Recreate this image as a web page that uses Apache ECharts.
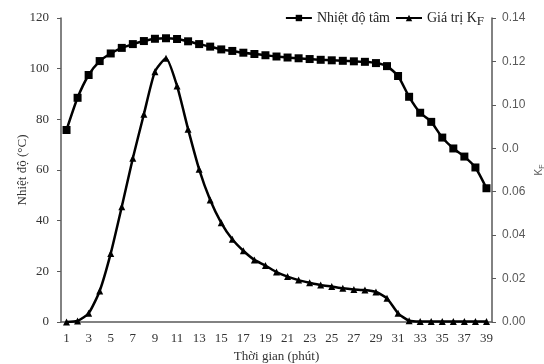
<!DOCTYPE html>
<html>
<head>
<meta charset="utf-8">
<script src="https://cdn.jsdelivr.net/npm/echarts@6/dist/echarts.min.js"></script>
<style>
  html, body { margin: 0; padding: 0; background: #fff; }
  #chart { width: 544px; height: 364px; }
</style>
</head>
<body>
<div id="chart"></div>
<script>
// Thời gian (phút): 1..39
const minutes = [
  1, 2, 3, 4, 5, 6, 7, 8, 9, 10, 11, 12, 13, 14, 15, 16, 17, 18, 19, 20,
  21, 22, 23, 24, 25, 26, 27, 28, 29, 30, 31, 32, 33, 34, 35, 36, 37, 38, 39
];

// Nhiệt độ tâm (°C), trục trái
const coreTemp = [
  75.8, 88.5, 97.5, 103.0, 106.0, 108.2, 109.7, 110.9, 111.8, 112.0,
  111.7, 110.8, 109.7, 108.7, 107.6, 107.0, 106.3, 105.8, 105.3, 104.8,
  104.4, 104.1, 103.8, 103.5, 103.3, 103.1, 102.9, 102.7, 102.2, 101.0,
  97.1, 88.9, 82.6, 79.0, 72.8, 68.5, 65.3, 61.0, 52.8
];

// Giá trị K_F, trục phải
const kValue = [
  0.0000, 0.0005, 0.0040, 0.0143, 0.0316, 0.0531, 0.0754, 0.0957, 0.1153, 0.1215,
  0.1087, 0.0888, 0.0703, 0.0562, 0.0457, 0.0381, 0.0328, 0.0286, 0.0260, 0.0230,
  0.0209, 0.0193, 0.0181, 0.0170, 0.0163, 0.0155, 0.0150, 0.0147, 0.0138, 0.0109,
  0.0040, 0.0006, 0.0002, 0.0002, 0.0002, 0.0002, 0.0002, 0.0002, 0.0002
];

// nhãn trục phải như trong hình gốc (0.08 bị cắt thành "0.0")
const rightTickLabels = ["0.00", "0.02", "0.04", "0.06", "0.0", "0.10", "0.12", "0.14"];

const serif = "Liberation Serif";
const axisColor = "#595959";

const chart = echarts.init(document.getElementById("chart"));
chart.setOption({
  animation: false,
  textStyle: { fontFamily: serif },
  grid: { left: 61, right: 52, top: 18, bottom: 42, outerBoundsMode: "none", containLabel: false },
  legend: {
    top: 3,
    right: 55,
    itemGap: 5,
    itemWidth: 26,
    itemHeight: 8,
    textStyle: {
      fontFamily: serif,
      fontSize: 14,
      color: "#222",
      lineHeight: 20,
      rich: {
        sub: { fontFamily: serif, fontSize: 13, color: "#222", lineHeight: 13, verticalAlign: "bottom" }
      }
    },
    formatter: (name) => (name === "Giá trị KF" ? "Giá trị K{sub|F}" : name),
    data: ["Nhiệt độ tâm", "Giá trị KF"]
  },
  xAxis: {
    type: "category",
    data: minutes,
    boundaryGap: true,
    name: "Thời gian (phút)",
    nameLocation: "middle",
    nameGap: 28,
    nameMoveOverlap: false,
    nameTextStyle: { fontFamily: serif, fontSize: 13, color: "#333" },
    axisLine: { lineStyle: { color: axisColor, width: 1.5 } },
    axisTick: { show: false },
    axisLabel: { interval: 1, fontFamily: serif, fontSize: 13, color: "#333", margin: 10 }
  },
  yAxis: [
    {
      type: "value",
      min: 0,
      max: 120,
      interval: 20,
      name: "Nhiệt độ (°C)",
      nameLocation: "middle",
      nameGap: 32,
      nameMoveOverlap: false,
      nameTextStyle: { fontFamily: serif, fontSize: 13, color: "#333" },
      axisLine: { show: true, lineStyle: { color: axisColor, width: 1.5 } },
      axisTick: { show: true, length: 4, lineStyle: { color: axisColor } },
      axisLabel: { fontFamily: serif, fontSize: 13, color: "#333", margin: 12 },
      splitLine: { show: false }
    },
    {
      type: "value",
      min: 0,
      max: 0.14,
      interval: 0.02,
      position: "right",
      name: "K{sub|F}",
      nameLocation: "middle",
      nameGap: 40,
      nameMoveOverlap: false,
      nameTextStyle: {
        fontFamily: "Liberation Sans",
        fontSize: 10,
        color: "#595959",
        lineHeight: 14,
        rich: { sub: { fontSize: 7, color: "#595959", lineHeight: 8, verticalAlign: "bottom" } }
      },
      axisLine: { show: true, lineStyle: { color: axisColor, width: 1.5 } },
      axisTick: { show: true, length: 4, lineStyle: { color: axisColor } },
      axisLabel: {
        fontFamily: "Liberation Sans",
        fontSize: 12,
        color: "#595959",
        margin: 10,
        formatter: (v) => rightTickLabels[Math.round(v / 0.02)] ?? ""
      },
      splitLine: { show: false }
    }
  ],
  series: [
    {
      name: "Nhiệt độ tâm",
      type: "line",
      yAxisIndex: 0,
      data: coreTemp,
      symbol: "rect",
      symbolSize: 8,
      showAllSymbol: true,
      smooth: 0.2,
      lineStyle: { color: "#000", width: 2.5 },
      itemStyle: { color: "#000" }
    },
    {
      name: "Giá trị KF",
      type: "line",
      yAxisIndex: 1,
      data: kValue,
      symbol: "triangle",
      symbolSize: 7,
      showAllSymbol: true,
      smooth: 0.2,
      lineStyle: { color: "#000", width: 2.5 },
      itemStyle: { color: "#000" }
    }
  ]
});
</script>
</body>
</html>
